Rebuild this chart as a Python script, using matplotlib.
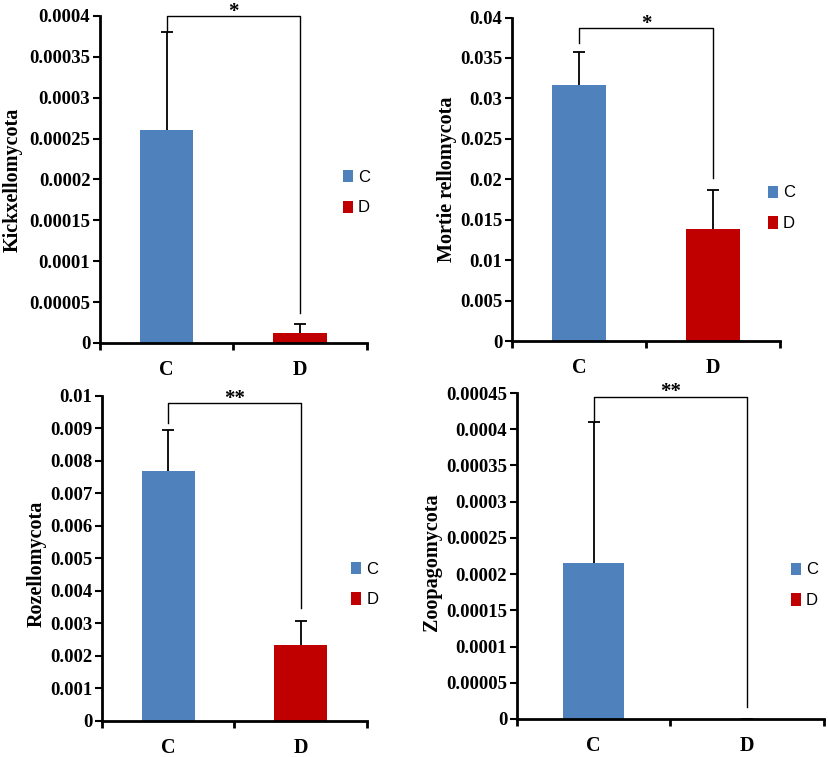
import numpy as np
import matplotlib.pyplot as plt
from matplotlib.ticker import MultipleLocator, FuncFormatter
from matplotlib.patches import Patch

plt.rcParams['font.family'] = ['Liberation Serif', 'DejaVu Serif']

groups = ['C', 'D']
colors = ['#4F81BD', '#C00000']

# one entry per panel
names = ['Kickxellomycota', 'Mortie rellomycota', 'Rozellomycota', 'Zoopagomycota']
means = [[0.00026, 0.000012], [0.0317, 0.0138], [0.0077, 0.00233], [0.000215, 0.0]]
errs = [[0.00012, 0.0000115], [0.0041, 0.0049], [0.00125, 0.00074], [0.000195, 0.0]]
ymax = [0.0004, 0.04, 0.01, 0.00045]
ystep = [0.00005, 0.005, 0.001, 0.00005]
signif = ['*', '*', '**', '**']
# bracket: top height, left end, right end
bracket = [[0.0004, 0.00038, 0.0000367],
           [0.0387, 0.0368, 0.0202],
           [0.00978, 0.00917, 0.00348],
           [0.000445, 0.00041, 0.000017]]

# axes rectangles in figure fraction
rects = [[0.1206, 0.5469, 0.322, 0.432],
         [0.6176, 0.5495, 0.3233, 0.4273],
         [0.123, 0.0476, 0.3197, 0.4293],
         [0.6236, 0.0502, 0.3703, 0.4306]]
label_x = [-0.29, -0.205, -0.21, -0.245]
label_y = [0.5, 0.5, 0.485, 0.48]
legend_pos = [(0.885, 0.46), (0.93, 0.41), (0.915, 0.42), (0.87, 0.41)]


def fmt(v, pos):
    s = f'{round(v, 7):.7f}'.rstrip('0').rstrip('.')
    return s


fig = plt.figure(figsize=(8.29, 7.57), dpi=100)

for i in range(4):
    ax = fig.add_axes(rects[i])
    x = np.arange(len(groups))
    ax.bar(x, means[i], width=0.4, color=colors, zorder=2)
    eb = ax.errorbar(x, means[i], yerr=[[0, 0], errs[i]], fmt='none', ecolor='black',
                     elinewidth=1.3, capsize=4.5, capthick=1.3, zorder=3)
    # only the upper cap
    eb[1][0].set_visible(False)

    top, yl, yr = bracket[i]
    ax.plot([0, 0, 1, 1], [yl, top, top, yr], color='black', lw=1.0,
            clip_on=False, zorder=4)
    ax.annotate(signif[i], xy=(0.5, top), xytext=(0, 3), textcoords='offset points',
                ha='center', va='center', fontsize=15, fontweight='bold',
                annotation_clip=False)

    ax.set_xlim(-0.5, 1.5)
    ax.set_ylim(0, ymax[i])
    ax.yaxis.set_major_locator(MultipleLocator(ystep[i]))
    ax.yaxis.set_major_formatter(FuncFormatter(fmt))
    ax.set_xticks([-0.5, 0.5, 1.5])
    ax.set_xticklabels([])
    ax.set_xticks(x, minor=True)
    ax.set_xticklabels(groups, minor=True)
    ax.tick_params(axis='x', which='minor', length=0, pad=12, labelsize=14.5)
    ax.tick_params(axis='x', which='major', length=5, width=2, direction='out')
    ax.tick_params(axis='y', length=5, width=1.5, labelsize=13.5, pad=2)
    for lab in ax.get_yticklabels() + ax.get_xticklabels(minor=True):
        lab.set_fontweight('bold')

    for side in ['top', 'right']:
        ax.spines[side].set_visible(False)
    ax.spines['left'].set_linewidth(2)
    ax.spines['bottom'].set_linewidth(2)

    ax.set_ylabel(names[i], fontsize=14.5, fontweight='bold')
    ax.yaxis.set_label_coords(label_x[i], label_y[i])

    handles = [Patch(facecolor=c, label=g) for c, g in zip(colors, groups)]
    ax.legend(handles=handles, loc='center left', bbox_to_anchor=legend_pos[i],
              frameon=False, handlelength=0.6, handleheight=0.75, handletextpad=0.3,
              labelspacing=0.95, borderaxespad=0, prop={'family': 'Liberation Sans', 'size': 12})

fig.savefig('out.png', dpi=100)
